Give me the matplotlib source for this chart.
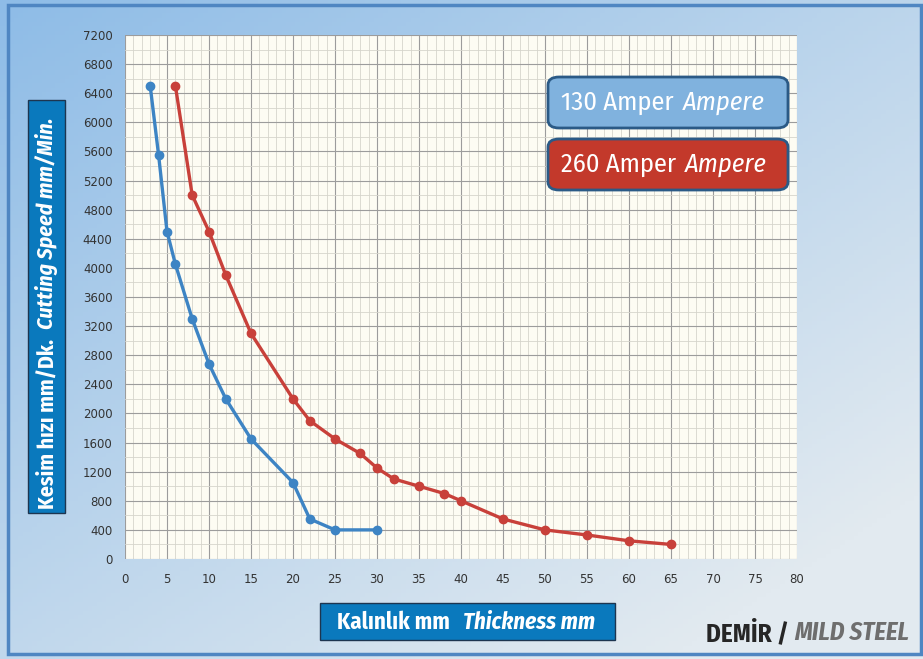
import numpy as np
import matplotlib.pyplot as plt
from matplotlib.patches import Rectangle, FancyBboxPatch
from matplotlib.ticker import MultipleLocator

# thickness (mm) and cutting speed (mm/min)
thk_130 = [3, 4, 5, 6, 8, 10, 12, 15, 20, 22, 25, 30]
spd_130 = [6500, 5550, 4500, 4050, 3300, 2680, 2200, 1650, 1050, 550, 400, 400]

thk_260 = [6, 8, 10, 12, 15, 20, 22, 25, 28, 30, 32, 35, 38, 40, 45, 50, 55, 60, 65]
spd_260 = [6500, 5000, 4500, 3900, 3100, 2200, 1900, 1650, 1450, 1250, 1100,
           1000, 900, 800, 550, 400, 330, 250, 200]

x_ticks = list(range(0, 81, 5))
y_ticks = list(range(0, 7201, 400))

BLUE = '#3d84c4'
RED = '#c8403a'
BOX_BLUE = '#0a79bd'
COND = ['Fira Sans Condensed', 'Roboto Condensed', 'Asap Condensed', 'DejaVu Sans']

W, H = 923, 659
fig = plt.figure(figsize=(W / 100, H / 100), dpi=100)

# background gradient
bg = fig.add_axes([0, 0, 1, 1], zorder=-10)
gx, gy = np.meshgrid(np.linspace(0, 1, 200), np.linspace(0, 1, 150))
t = np.clip(0.55 * gx + 0.6 * gy, 0, 1)[..., None]
c0 = np.array([0x8e, 0xbc, 0xe7]) / 255
c1 = np.array([0xe2, 0xea, 0xf0]) / 255
bg.imshow(c0 * (1 - t) + c1 * t, aspect='auto', extent=[0, 1, 0, 1], origin='upper')
bg.add_patch(Rectangle((8 / W, 5 / H), 913 / W, 649 / H, fill=False,
                       edgecolor='#4f86c2', lw=2.5))
bg.set_xlim(0, 1)
bg.set_ylim(0, 1)
bg.axis('off')

ax = fig.add_axes([125 / W, 100 / H, 672 / W, 524 / H])
ax.set_facecolor('#fdfcf3')
ax.set_xlim(0, 80)
ax.set_ylim(0, 7200)
ax.xaxis.set_major_locator(MultipleLocator(5))
ax.xaxis.set_minor_locator(MultipleLocator(1))
ax.yaxis.set_major_locator(MultipleLocator(400))
ax.yaxis.set_minor_locator(MultipleLocator(200))
ax.grid(which='major', color='#9c9c9c', lw=0.8)
ax.grid(which='minor', color='#d6d5cc', lw=0.6)
ax.set_xticks(x_ticks)
ax.set_yticks(y_ticks)
ax.tick_params(which='both', length=0, labelsize=8.5, colors='#333333', pad=9)
ax.tick_params(axis='x', pad=10)
for s in ax.spines.values():
    s.set_visible(False)

ax.plot(thk_130, spd_130, color=BLUE, lw=2.4, marker='o', ms=6, zorder=3)
ax.plot(thk_260, spd_260, color=RED, lw=2.4, marker='o', ms=6, zorder=3)


def legend_box(y_top, face, num):
    x0, x1, h = 548, 788, 51
    fig.patches.append(FancyBboxPatch((x0 / W, (H - y_top - h) / H), (x1 - x0) / W, h / H,
                                      boxstyle='round,pad=0,rounding_size=0.012',
                                      transform=fig.transFigure, facecolor=face,
                                      edgecolor='#2b5a86', lw=2, zorder=5))
    yc = (H - y_top - h / 2) / H
    t1 = fig.text(561 / W, yc, num + ' Amper', color='white',
                  fontsize=19, family=COND, va='center', ha='left', zorder=6)
    fig.canvas.draw()
    e = t1.get_window_extent()
    fig.text((e.x1 + 9) / W, yc, 'Ampere', color='white', fontsize=19, family=COND,
             style='italic', zorder=6, va='center', ha='left')


legend_box(77, '#80b2de', '130')
legend_box(139, '#c3392b', '260')

# y label box
fig.patches.append(Rectangle((28 / W, (H - 513) / H), 37 / W, 413 / H,
                             transform=fig.transFigure, facecolor=BOX_BLUE,
                             edgecolor='#1d3550', lw=1, zorder=5))
ty = fig.text(47 / W, (H - 509) / H, 'Kesim hızı mm/Dk.', rotation=90, color='white',
              fontsize=15.8, fontweight='bold', family=COND, ha='center', va='bottom', zorder=6)
fig.canvas.draw()
e = ty.get_window_extent()
fig.text(47 / W, (e.y1 + 10) / H, 'Cutting Speed mm/Min.', rotation=90, color='white',
         fontsize=15.8, fontweight='bold', style='italic', family=COND,
         ha='center', va='bottom', zorder=6)

# x label box
fig.patches.append(Rectangle((320 / W, (H - 640) / H), 295 / W, 37 / H,
                             transform=fig.transFigure, facecolor=BOX_BLUE,
                             edgecolor='#1d3550', lw=1, zorder=5))
tx = fig.text(337 / W, (H - 622) / H, 'Kalınlık mm', color='white', fontsize=16.5,
              fontweight='bold', family=COND, ha='left', va='center', zorder=6)
fig.canvas.draw()
e = tx.get_window_extent()
fig.text((e.x1 + 13) / W, (H - 622) / H, 'Thickness mm', color='white', fontsize=16.5,
         fontweight='bold', style='italic', family=COND, ha='left', va='center', zorder=6)

# material label
tm = fig.text(706 / W, (H - 633) / H, 'DEMİR /', color='#262626', fontsize=18,
              fontweight='bold', family=COND, ha='left', va='center')
fig.canvas.draw()
e = tm.get_window_extent()
fig.text((e.x1 + 5) / W, (H - 633) / H, 'MILD STEEL', color='#6e6e6e', fontsize=18,
         fontweight='bold', style='italic', family=COND, ha='left', va='center')

fig.savefig('out.png', dpi=100)
